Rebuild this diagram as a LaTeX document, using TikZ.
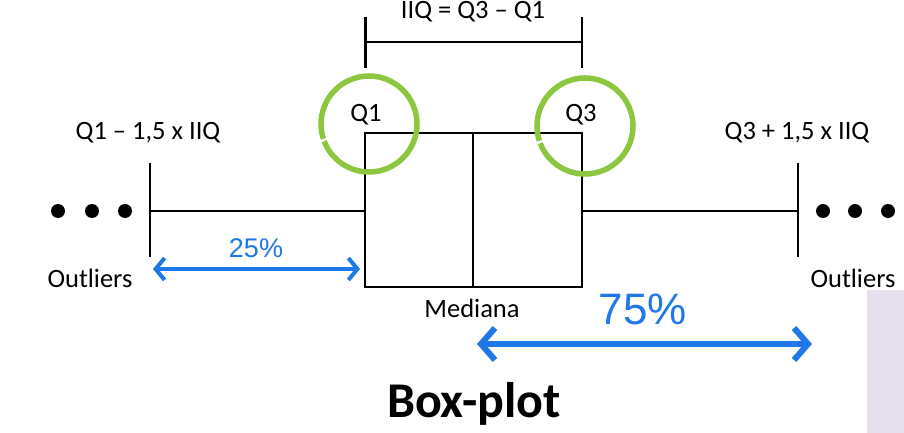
\documentclass[tikz,border=0pt]{standalone}
\usepackage{fontspec}
\setmainfont{Carlito}
\newfontfamily\pctfont{Liberation Sans}
\usetikzlibrary{arrows.meta}
\definecolor{qgreen}{HTML}{8DC63F}
\definecolor{pblue}{HTML}{1F78E8}
\definecolor{lav}{HTML}{E6E0EE}
\tikzset{
  lbl/.style={inner sep=0pt, font=\fontsize{26.5}{30}\selectfont},
  pct/.style={inner sep=0pt, text=pblue},
  plotline/.style={line width=2.7pt, black},
  qring/.style={line width=5.5pt, qgreen},
  dot/.style={circle, fill=black, minimum size=14pt, inner sep=0pt},
}
\begin{document}
\begin{tikzpicture}[x=1pt,y=-1pt]
\useasboundingbox (0,0) rectangle (904,433);
\fill[lav] (867,290) rectangle (904,433);
% box
\draw[plotline] (365,133) rectangle (582,287);
\draw[plotline] (473,133) -- (473,287);
% whiskers
\coordinate (lw) at (150,211);
\coordinate (rw) at (798,211);
\draw[plotline] (lw) -- (365,211);
\draw[plotline] (582,211) -- (rw);
\draw[plotline] (150,163) -- (150,257);
\draw[plotline] (798,163) -- (798,257);
% top bracket
\draw[plotline] (365.5,17) -- (365.5,68);
\draw[plotline] (582,17) -- (582,68);
\draw[plotline] (365.5,42) -- (582,42);
\node[lbl, anchor=north] (iiq) at (473,1) {IIQ = Q3 – Q1};
% green rings
\coordinate (c1) at (369,124);
\coordinate (c3) at (585,126);
\draw[qring] (c1) ++(162:48) arc[start angle=162, end angle=519, radius=48];
\draw[qring] (c3) ++(162:48) arc[start angle=162, end angle=519, radius=48];
\node[lbl] (q1) at (366,115) {Q1};
\node[lbl] (q3) at (581,115) {Q3};
% limit labels
\node[lbl] (lo) at (148,133) {Q1 – 1,5 x IIQ};
\node[lbl] (hi) at (797,133) {Q3 + 1,5 x IIQ};
% dots
\node[dot] (d1) at (58,211) {};
\node[dot] (d2) at (92,211) {};
\node[dot] (d3) at (125,211) {};
\node[dot] (d4) at (823,211) {};
\node[dot] (d5) at (855,211) {};
\node[dot] (d6) at (888,211) {};
\node[lbl] (ol) at (90,278) {Outliers};
\node[lbl] (or) at (853,278) {Outliers};
\node[lbl] (med) at (472,308) {Mediana};
% percentages
\coordinate (a1) at (153,269);
\coordinate (a2) at (360,269);
\draw[pblue, line width=4pt, {Straight Barb[length=9pt,width=22pt]}-{Straight Barb[length=9pt,width=22pt]}] (a1) -- (a2);
\node[pct, font=\pctfont\fontsize{27}{30}\selectfont] (p25) at (256,248) {25\%};
\coordinate (b1) at (477,344);
\coordinate (b2) at (812,344);
\draw[pblue, line width=6pt, {Straight Barb[length=14pt,width=32pt]}-{Straight Barb[length=14pt,width=32pt]}] (b1) -- (b2);
\node[pct, font=\pctfont\fontsize{44}{50}\selectfont] (p75) at (643,309) {75\%};
\node[inner sep=0pt, font=\bfseries\fontsize{50}{56}\selectfont] (title) at (474,404) {Box-plot};
\end{tikzpicture}
\end{document}
